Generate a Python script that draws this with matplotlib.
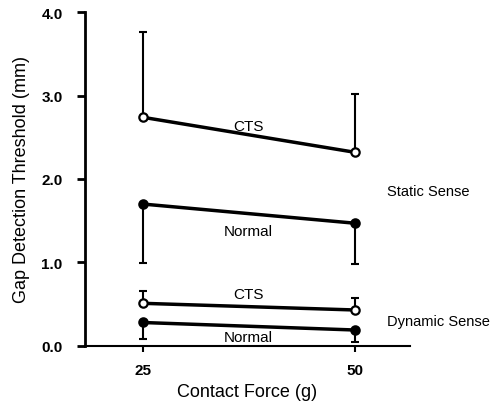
import matplotlib
matplotlib.use("Agg")
import matplotlib.pyplot as plt

plt.rcParams['font.family'] = ['Liberation Sans', 'DejaVu Sans']

force = [25, 50]
static_cts = [2.74, 2.32]
static_cts_err_up = [1.02, 0.70]
static_normal = [1.70, 1.47]
static_normal_err_down = [0.71, 0.49]
dyn_cts = [0.51, 0.43]
dyn_cts_err_up = [0.15, 0.14]
dyn_normal = [0.28, 0.19]
dyn_normal_err_down = [0.20, 0.14]

fig = plt.figure(figsize=(4.91, 4.10), dpi=100)
ax = fig.add_axes([0.173, 0.154, 0.662, 0.814])

def series(y, err, up, filled):
    yerr = [[0, 0], err] if up else [err, [0, 0]]
    ax.errorbar(force, y, yerr=yerr, fmt='none', ecolor='black', elinewidth=1.5,
                capsize=3, capthick=1.5, zorder=2)
    ax.plot(force, y, color='black', lw=2.5, zorder=3)
    ax.plot(force, y, 'o', ms=6, mec='black', mew=1.6,
            mfc='black' if filled else 'white', zorder=4)

series(static_cts, static_cts_err_up, True, False)
series(static_normal, static_normal_err_down, False, True)
series(dyn_cts, dyn_cts_err_up, True, False)
series(dyn_normal, dyn_normal_err_down, False, True)

ax.text(37.5, 2.63, 'CTS', ha='center', va='center', fontsize=11)
ax.text(37.5, 1.38, 'Normal', ha='center', va='center', fontsize=11)
ax.text(37.5, 0.62, 'CTS', ha='center', va='center', fontsize=11)
ax.text(37.5, 0.11, 'Normal', ha='center', va='center', fontsize=11)
ax.text(0.93, 0.465, 'Static Sense', transform=ax.transAxes, ha='left', va='center', fontsize=10.5)
ax.text(0.93, 0.075, 'Dynamic Sense', transform=ax.transAxes, ha='left', va='center', fontsize=10.5)

ax.set_xlim(18.2, 56.5)
ax.set_ylim(0, 4.0)
ax.set_xticks(force)
ax.set_xticklabels(['25', '50'], fontweight='bold', fontsize=11)
ax.set_yticks([0, 1, 2, 3, 4])
ax.set_yticklabels(['0.0', '1.0', '2.0', '3.0', '4.0'], fontweight='bold', fontsize=11)
ax.spines['top'].set_visible(False)
ax.spines['right'].set_visible(False)
ax.spines['left'].set_linewidth(2)
ax.spines['bottom'].set_linewidth(1.5)
ax.tick_params(axis='y', direction='out', length=6, width=2, pad=10)
ax.tick_params(axis='x', direction='out', length=4, width=1.5, pad=8)
ax.set_xlabel('Contact Force (g)', fontsize=13, labelpad=5)
ax.set_ylabel('Gap Detection Threshold (mm)', fontsize=13, labelpad=8)

fig.savefig('out.png', dpi=100)
